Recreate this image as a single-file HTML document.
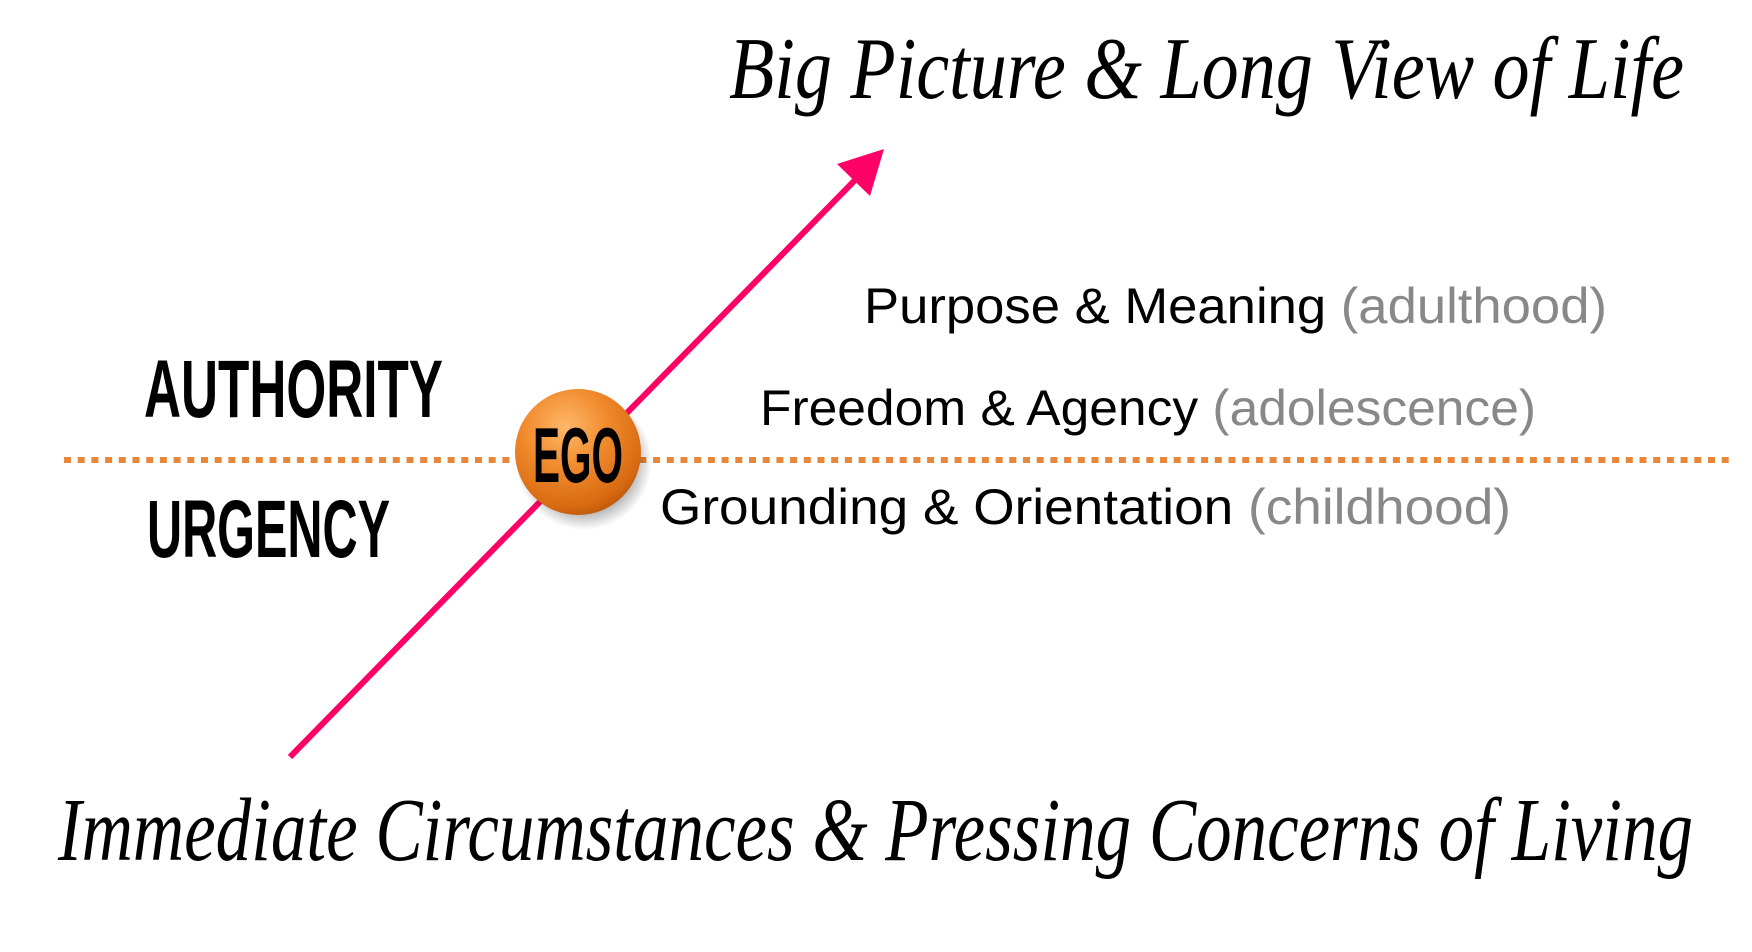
<!DOCTYPE html>
<html><head><meta charset="utf-8"><style>
html,body{margin:0;padding:0;background:#fff;}
svg{display:block;}
</style></head><body>
<svg width="1752" height="952" viewBox="0 0 1752 952" xmlns="http://www.w3.org/2000/svg">
<defs>
<radialGradient id="ball" cx="0.4" cy="0.3" r="0.75">
<stop offset="0" stop-color="#ffb86a"/>
<stop offset="0.45" stop-color="#f08a2c"/>
<stop offset="0.85" stop-color="#d86a12"/>
<stop offset="1" stop-color="#b8560a"/>
</radialGradient>
<radialGradient id="shadow" cx="0.5" cy="0.5" r="0.5">
<stop offset="0.6" stop-color="#000" stop-opacity="0.45"/>
<stop offset="1" stop-color="#000" stop-opacity="0"/>
</radialGradient>
</defs>
<!-- dotted line -->
<line x1="64" y1="460" x2="1732" y2="460" stroke="#e8873a" stroke-width="6" stroke-dasharray="7 6.7"/>
<!-- arrow -->
<line x1="290" y1="757" x2="860" y2="175" stroke="#ff0066" stroke-width="6"/>
<polygon points="884,149 837,164 870,196" fill="#ff0066"/>
<!-- ego ball -->
<circle cx="584" cy="462" r="68" fill="url(#shadow)"/>
<circle cx="578" cy="452" r="63" fill="url(#ball)"/>
<text x="578" y="482" font-family="Liberation Sans Narrow, Liberation Sans, sans-serif" font-weight="bold" font-size="78" text-anchor="middle" textLength="90" lengthAdjust="spacingAndGlyphs" fill="#000">EGO</text>
<!-- titles -->
<text x="729" y="98" font-family="Liberation Serif, serif" font-style="italic" font-size="88" textLength="955" lengthAdjust="spacingAndGlyphs" fill="#000">Big Picture &amp; Long View of Life</text>
<text x="58" y="860" font-family="Liberation Serif, serif" font-style="italic" font-size="90" textLength="1635" lengthAdjust="spacingAndGlyphs" fill="#000">Immediate Circumstances &amp; Pressing Concerns of Living</text>
<!-- side labels -->
<text x="144" y="417" font-family="Liberation Sans Narrow, Liberation Sans, sans-serif" font-weight="bold" font-size="82" textLength="299" lengthAdjust="spacingAndGlyphs" fill="#000">AUTHORITY</text>
<text x="147" y="557" font-family="Liberation Sans Narrow, Liberation Sans, sans-serif" font-weight="bold" font-size="82" textLength="243" lengthAdjust="spacingAndGlyphs" fill="#000">URGENCY</text>
<!-- stages -->
<text x="864" y="323" font-family="Liberation Sans, sans-serif" font-size="50" textLength="743" lengthAdjust="spacingAndGlyphs" fill="#000">Purpose &amp; Meaning <tspan fill="#888">(adulthood)</tspan></text>
<text x="760" y="425" font-family="Liberation Sans, sans-serif" font-size="50" textLength="776" lengthAdjust="spacingAndGlyphs" fill="#000">Freedom &amp; Agency <tspan fill="#888">(adolescence)</tspan></text>
<text x="660" y="524" font-family="Liberation Sans, sans-serif" font-size="50" textLength="851" lengthAdjust="spacingAndGlyphs" fill="#000">Grounding &amp; Orientation <tspan fill="#888">(childhood)</tspan></text>
</svg>
</body></html>
